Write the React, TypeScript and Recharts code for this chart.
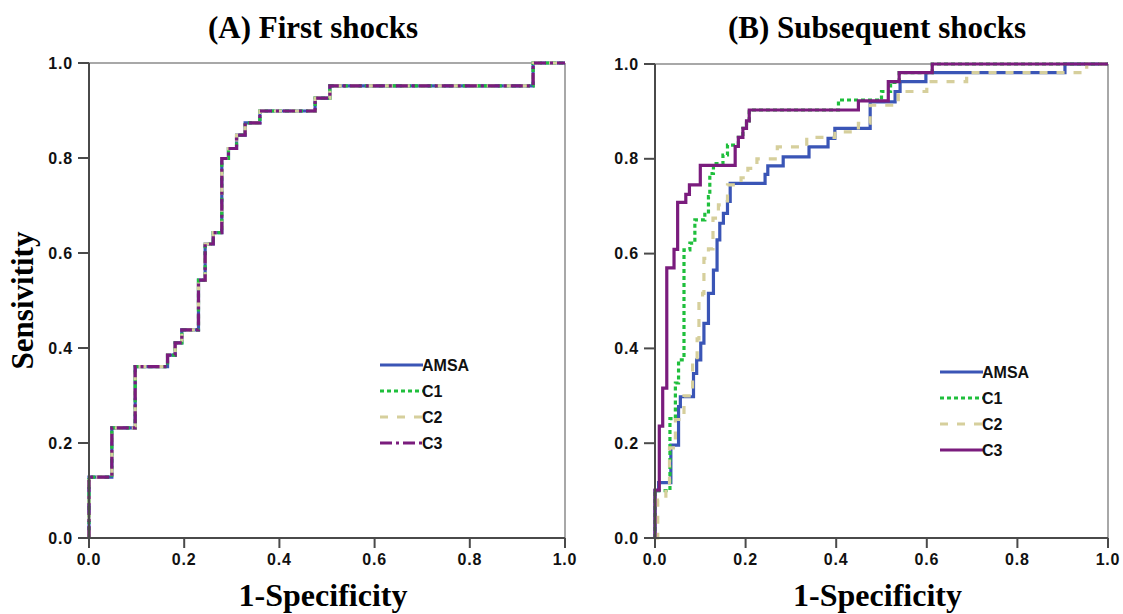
import { LineChart, Line, XAxis, YAxis, ReferenceLine, Legend } from 'recharts';

const AXIS_TICKS = [0, 0.2, 0.4, 0.6, 0.8, 1.0];
const SERIES_NAMES = ['AMSA', 'C1', 'C2', 'C3'];

// (A) First shocks - the four curves coincide
const firstFpr = [0, 0, 0.048, 0.097, 0.165, 0.181, 0.195, 0.230, 0.244, 0.261, 0.279, 0.293, 0.310, 0.328, 0.359, 0.475, 0.506, 0.933, 1];
const firstTpr = [0, 0.128, 0.232, 0.361, 0.385, 0.411, 0.438, 0.543, 0.619, 0.643, 0.799, 0.820, 0.848, 0.874, 0.899, 0.926, 0.952, 1, 1];

// (B) Subsequent shocks
const subAmsaFpr = [0, 0, 0.008, 0.035, 0.052, 0.056, 0.085, 0.092, 0.101, 0.108, 0.118, 0.129, 0.137, 0.143, 0.151, 0.160, 0.166, 0.243, 0.249, 0.283, 0.340, 0.382, 0.397, 0.475, 0.530, 0.541, 0.598, 0.905, 1];
const subAmsaTpr = [0, 0.100, 0.117, 0.196, 0.277, 0.298, 0.347, 0.376, 0.411, 0.453, 0.516, 0.565, 0.629, 0.664, 0.685, 0.710, 0.748, 0.767, 0.785, 0.804, 0.825, 0.843, 0.864, 0.920, 0.942, 0.963, 0.982, 1, 1];

const subC1Fpr = [0, 0, 0.033, 0.045, 0.052, 0.064, 0.077, 0.088, 0.110, 0.118, 0.121, 0.129, 0.150, 0.160, 0.184, 0.194, 0.202, 0.208, 0.405, 0.500, 0.520, 0.539, 0.612, 1];
const subC1Tpr = [0, 0.100, 0.252, 0.327, 0.376, 0.608, 0.622, 0.671, 0.688, 0.720, 0.769, 0.790, 0.808, 0.829, 0.845, 0.864, 0.880, 0.903, 0.924, 0.942, 0.961, 0.982, 1, 1];

const subC2Fpr = [0, 0.006, 0.024, 0.032, 0.045, 0.064, 0.083, 0.093, 0.097, 0.105, 0.108, 0.118, 0.128, 0.140, 0.160, 0.190, 0.205, 0.225, 0.270, 0.335, 0.397, 0.449, 0.475, 0.537, 0.600, 0.688, 0.953, 1];
const subC2Tpr = [0, 0.080, 0.107, 0.190, 0.250, 0.300, 0.370, 0.420, 0.500, 0.516, 0.590, 0.610, 0.675, 0.703, 0.745, 0.760, 0.780, 0.800, 0.825, 0.845, 0.857, 0.875, 0.913, 0.942, 0.963, 0.982, 1, 1];

const subC3Fpr = [0, 0, 0.0095, 0.017, 0.026, 0.042, 0.050, 0.068, 0.076, 0.100, 0.177, 0.184, 0.194, 0.202, 0.208, 0.449, 0.515, 0.539, 0.612, 1];
const subC3Tpr = [0, 0.101, 0.236, 0.316, 0.570, 0.609, 0.708, 0.725, 0.745, 0.786, 0.826, 0.845, 0.864, 0.880, 0.903, 0.922, 0.963, 0.982, 1, 1];

const COLORS: Record<string, string> = {
  AMSA: '#3a55b6',
  C1: '#1fbf3c',
  C2: '#d6cf9c',
  C3: '#7a1c7d',
};

const toPoints = (fpr: number[], tpr: number[]) => fpr.map((x, i) => ({ x, y: tpr[i] }));

type Series = { name: string; data: { x: number; y: number }[]; dash?: string };

const firstSeries: Series[] = [
  { name: 'AMSA', data: toPoints(firstFpr, firstTpr) },
  { name: 'C1', data: toPoints(firstFpr, firstTpr), dash: '4 3' },
  { name: 'C2', data: toPoints(firstFpr, firstTpr), dash: '8 9' },
  { name: 'C3', data: toPoints(firstFpr, firstTpr), dash: '12 4 3 4' },
];

const subSeries: Series[] = [
  { name: 'AMSA', data: toPoints(subAmsaFpr, subAmsaTpr) },
  { name: 'C1', data: toPoints(subC1Fpr, subC1Tpr), dash: '4 3' },
  { name: 'C2', data: toPoints(subC2Fpr, subC2Tpr), dash: '8 9' },
  { name: 'C3', data: toPoints(subC3Fpr, subC3Tpr) },
];

const SANS = '"Liberation Sans", Arial, sans-serif';
const SERIF = '"Liberation Serif", "Times New Roman", serif';
const AXIS_COLOR = '#4a4a4a';
const FRAME_COLOR = '#a8a8a8';

const tickStyle = { fill: '#111', fontSize: 16, fontWeight: 700, fontFamily: SANS, letterSpacing: 0.8 };

const YTitle = (props: any) => {
  const { viewBox } = props;
  if (!viewBox) return null;
  const { x, y, height } = viewBox;
  const cx = x - 17;
  const cy = y + height / 2;
  return (
    <text
      x={cx}
      y={cy}
      fill="#000"
      fontFamily={SERIF}
      fontWeight={700}
      fontSize={31}
      textAnchor="middle"
      dominantBaseline="central"
      transform={`rotate(-90, ${cx}, ${cy})`}
    >
      Sensivitity
    </text>
  );
};

const XTitle = (props: any) => {
  const { viewBox } = props;
  if (!viewBox) return null;
  const { x, width } = viewBox;
  return (
    <text x={x + width / 2 - 4} y={606} fill="#000" fontFamily={SERIF} fontWeight={700} fontSize={32} textAnchor="middle">
      1-Specificity
    </text>
  );
};

const LegendBox = ({ series }: { series: Series[] }) => (
  <svg width={130} height={110}>
    {series.map((s, i) => {
      const cy = 15 + i * 26;
      return (
        <g key={s.name}>
          <line x1={5} x2={48} y1={cy} y2={cy} stroke={COLORS[s.name]} strokeWidth={3} strokeDasharray={s.dash} />
          <text x={47} y={cy} dominantBaseline="central" fontFamily={SANS} fontWeight={700} fontSize={16} fill="#111">
            {s.name}
          </text>
        </g>
      );
    })}
  </svg>
);

type PanelProps = {
  width: number;
  marginLeft: number;
  marginTop: number;
  series: Series[];
  showYTitle: boolean;
  legendLeft: number;
  legendTop: number;
};

function Panel({ width, marginLeft, marginTop, series, showYTitle, legendLeft, legendTop }: PanelProps) {
  return (
    <LineChart
      width={width}
      height={614}
      margin={{ top: marginTop, right: 15, bottom: 46, left: marginLeft }}
      style={{ background: 'transparent' }}
    >
      <XAxis
        type="number"
        dataKey="x"
        domain={[0, 1]}
        ticks={AXIS_TICKS}
        tickFormatter={(v: number) => v.toFixed(1)}
        stroke={AXIS_COLOR}
        strokeWidth={2}
        tickSize={10}
        tickMargin={6}
        tick={tickStyle}
        height={30}
        interval={0}
        allowDuplicatedCategory={false}
        label={<XTitle />}
      />
      <YAxis
        type="number"
        domain={[0, 1]}
        ticks={AXIS_TICKS}
        tickFormatter={(v: number) => v.toFixed(1)}
        stroke={AXIS_COLOR}
        strokeWidth={2}
        tickSize={11}
        tickMargin={5}
        tick={tickStyle}
        width={50}
        interval={0}
        label={showYTitle ? <YTitle /> : undefined}
      />
      <ReferenceLine y={1} stroke={FRAME_COLOR} strokeWidth={2} />
      <ReferenceLine x={1} stroke={FRAME_COLOR} strokeWidth={2} />
      {series.map((s) => (
        <Line
          key={s.name}
          data={s.data}
          dataKey="y"
          name={s.name}
          type="stepAfter"
          stroke={COLORS[s.name]}
          strokeWidth={3.2}
          strokeDasharray={s.dash}
          dot={false}
          activeDot={false}
          isAnimationActive={false}
        />
      ))}
      <Legend
        layout="vertical"
        align="center"
        verticalAlign="middle"
        wrapperStyle={{ left: legendLeft, top: legendTop, width: 130, height: 110 }}
        content={() => <LegendBox series={series} />}
      />
    </LineChart>
  );
}

const titleStyle: React.CSSProperties = {
  position: 'absolute',
  top: 12,
  fontFamily: SERIF,
  fontWeight: 700,
  fontSize: 31,
  lineHeight: '31px',
  whiteSpace: 'nowrap',
  transform: 'translateX(-50%)',
  color: '#000',
};

export default function App() {
  return (
    <div style={{ position: 'absolute', left: 0, top: 0, width: 1123, height: 614, background: '#fff', overflow: 'hidden' }}>
      <div style={{ ...titleStyle, left: 313 }}>(A) First shocks</div>
      <div style={{ ...titleStyle, left: 877 }}>(B) Subsequent shocks</div>
      <div style={{ position: 'absolute', left: 0, top: 0 }}>
        <Panel width={580} marginLeft={39} marginTop={63} series={firstSeries} showYTitle legendLeft={375} legendTop={350} />
      </div>
      <div style={{ position: 'absolute', left: 580, top: 0 }}>
        <Panel width={543} marginLeft={25} marginTop={64} series={subSeries} showYTitle={false} legendLeft={355} legendTop={357} />
      </div>
    </div>
  );
}
